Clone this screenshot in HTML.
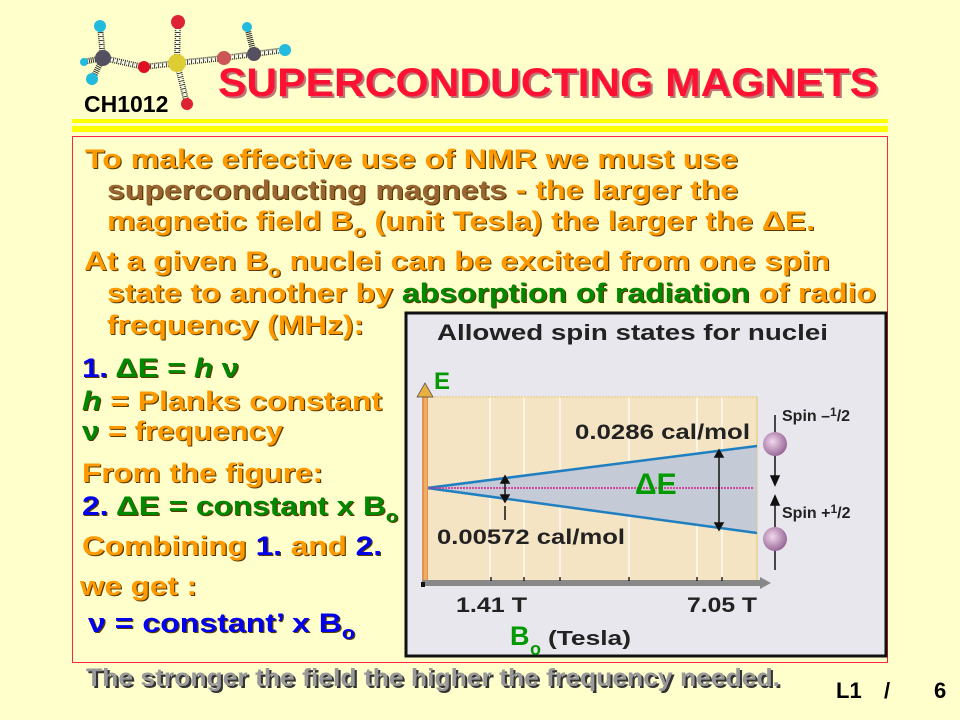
<!DOCTYPE html>
<html><head><meta charset="utf-8"><style>
body{margin:0;width:960px;height:720px;background:#ffffcc;position:relative;overflow:hidden;}
svg text{font-family:"Liberation Sans",sans-serif;font-weight:bold;}
.t{font-size:27px;fill:#ff9900;text-shadow:1px 1px 0 #5a3a00;}
.br{fill:#996633}.g{fill:#008800}.b{fill:#0000ee}.o{fill:#ff9900}
</style></head><body>
<svg width="960" height="720" style="position:absolute;left:0;top:0">
<!-- molecule -->
<g stroke-width="6" stroke="#333" stroke-dasharray="1 1">
<line x1="100" y1="26" x2="103" y2="58"/><line x1="83" y1="62" x2="103" y2="58"/><line x1="93" y1="78" x2="103" y2="58"/>
<line x1="103" y1="58" x2="144" y2="67"/><line x1="144" y1="67" x2="177" y2="63"/><line x1="177" y1="63" x2="178" y2="22"/><line x1="177" y1="63" x2="187" y2="104"/><line x1="177" y1="63" x2="224" y2="58"/><line x1="224" y1="58" x2="254" y2="54"/><line x1="254" y1="54" x2="247" y2="27"/><line x1="254" y1="54" x2="285" y2="50"/>
</g>
<g stroke="#fff" stroke-width="3" stroke-dasharray="2 2">
<line x1="100" y1="26" x2="103" y2="58"/><line x1="103" y1="58" x2="144" y2="67"/><line x1="144" y1="67" x2="177" y2="63"/><line x1="177" y1="63" x2="178" y2="22"/><line x1="177" y1="63" x2="187" y2="104"/><line x1="177" y1="63" x2="224" y2="58"/><line x1="224" y1="58" x2="254" y2="54"/><line x1="254" y1="54" x2="285" y2="50"/>
</g>
<circle cx="100" cy="26" r="6" fill="#22bbdd"/><circle cx="84" cy="62" r="4" fill="#22bbdd"/><circle cx="92" cy="79" r="6" fill="#22bbdd"/>
<circle cx="103" cy="58" r="8" fill="#555060"/><circle cx="144" cy="67" r="6" fill="#dd1122"/>
<circle cx="178" cy="22" r="7" fill="#dd2233"/><circle cx="187" cy="104" r="6" fill="#dd2233"/>
<circle cx="177" cy="63" r="9" fill="#ddcc33"/><circle cx="224" cy="58" r="7" fill="#cc5555"/>
<circle cx="254" cy="54" r="7" fill="#555060"/><circle cx="247" cy="27" r="5" fill="#22bbdd"/><circle cx="285" cy="50" r="6" fill="#22bbdd"/>
<!-- yellow lines -->
<rect x="72" y="119" width="816" height="4" fill="#ffff00"/><rect x="72" y="126" width="816" height="6" fill="#ffff00"/>
<rect x="72.5" y="136.5" width="815" height="526" fill="none" stroke="#ff2244" stroke-width="1"/>
<!-- figure -->
<rect x="406" y="313" width="480" height="343" fill="#e9e7ee" stroke="#111" stroke-width="3"/>
<rect x="425" y="397" width="332" height="185" fill="#f4e4c4"/>
<g stroke="#fffaf0" stroke-width="1.5"><line x1="490" y1="397" x2="490" y2="582"/><line x1="524" y1="397" x2="524" y2="582"/><line x1="560" y1="397" x2="560" y2="582"/><line x1="629" y1="397" x2="629" y2="582"/><line x1="697" y1="397" x2="697" y2="582"/><line x1="722" y1="397" x2="722" y2="582"/></g>
<line x1="425" y1="397" x2="757" y2="397" stroke="#e8c860" stroke-dasharray="2 1"/><line x1="757" y1="397" x2="757" y2="582" stroke="#e8c860"/>
<polygon points="427,488 757,446 757,533" fill="#c4cbd6"/>
<line x1="427" y1="488" x2="757" y2="446" stroke="#1f7fc0" stroke-width="2.5"/>
<line x1="427" y1="488" x2="757" y2="533" stroke="#1f7fc0" stroke-width="2.5"/>
<line x1="430" y1="488" x2="754" y2="488" stroke="#dd2288" stroke-width="1.5" stroke-dasharray="2 1"/>
<rect x="422" y="391" width="6" height="192" fill="#e89050"/><rect x="424" y="391" width="3" height="192" fill="#e8b060"/>
<polygon points="417,397 425,383 433,397" fill="#e8b040" stroke="#444" stroke-width="0.7"/>
<rect x="422" y="580" width="340" height="6" fill="#888"/><polygon points="760,577 771,583 760,589" fill="#888"/>
<rect x="421" y="582" width="4" height="5" fill="#111"/>
<g stroke="#222" stroke-width="1.5"><line x1="491" y1="577" x2="491" y2="581"/><line x1="524" y1="577" x2="524" y2="581"/><line x1="560" y1="577" x2="560" y2="581"/><line x1="629" y1="577" x2="629" y2="581"/><line x1="697" y1="577" x2="697" y2="581"/><line x1="722" y1="577" x2="722" y2="581"/></g>
<g stroke="#111" stroke-width="1.5" fill="#111">
<line x1="505" y1="481" x2="505" y2="497"/><polygon points="501,483 505,476 509,483"/><polygon points="501,495 505,502 509,495"/><line x1="505" y1="506" x2="505" y2="520"/>
<line x1="719" y1="455" x2="719" y2="525"/><polygon points="715,457 719,450 723,457"/><polygon points="715,523 719,530 723,523"/>
<line x1="775" y1="415" x2="775" y2="480"/><polygon points="771,476 775,485 779,476"/>
<line x1="775" y1="500" x2="775" y2="570"/><polygon points="771,505 775,496 779,505"/>
</g>
<defs><radialGradient id="s" cx="0.4" cy="0.4" r="0.6"><stop offset="0" stop-color="#f2d8ee"/><stop offset="1" stop-color="#9a6a98"/></radialGradient></defs>
<circle cx="775" cy="444" r="12" fill="url(#s)"/><circle cx="775" cy="539" r="12" fill="url(#s)"/>
<g fill="#222">
<text x="437" y="340" font-size="22" textLength="391" lengthAdjust="spacingAndGlyphs">Allowed spin states for nuclei</text>
<text x="575" y="439" font-size="21" textLength="175" lengthAdjust="spacingAndGlyphs">0.0286 cal/mol</text>
<text x="437" y="544" font-size="21" textLength="188" lengthAdjust="spacingAndGlyphs">0.00572 cal/mol</text>
<text x="456" y="612" font-size="21" textLength="71" lengthAdjust="spacingAndGlyphs">1.41 T</text>
<text x="687" y="612" font-size="21" textLength="70" lengthAdjust="spacingAndGlyphs">7.05 T</text>
<text x="548" y="645" font-size="20" textLength="83" lengthAdjust="spacingAndGlyphs">(Tesla)</text>
<text x="782" y="421" font-size="16">Spin –<tspan font-size="12" dy="-5">1</tspan><tspan dy="5">/2</tspan></text>
<text x="782" y="518" font-size="16">Spin +<tspan font-size="12" dy="-5">1</tspan><tspan dy="5">/2</tspan></text>
</g>
<g fill="#009900">
<text x="434" y="389" font-size="24">E</text>
<text x="635" y="494" font-size="30">ΔE</text>
<text x="510" y="645" font-size="27">B</text><text x="530" y="655" font-size="18">o</text>
</g>
<!-- header -->
<text x="84" y="112" font-size="23" fill="#000">CH1012</text>
<text x="218" y="96" font-size="40" fill="#ff1133" style="text-shadow:2px 2px 0 #bb7777" textLength="660" lengthAdjust="spacingAndGlyphs">SUPERCONDUCTING MAGNETS</text>
<!-- body -->
<text class="t" x="85" y="168" textLength="653" lengthAdjust="spacingAndGlyphs">To make effective use of NMR we must use</text>
<text class="t" x="107" y="199" textLength="631" lengthAdjust="spacingAndGlyphs"><tspan class="br">superconducting magnets</tspan> - the larger the</text>
<text class="t" x="107" y="230" textLength="708" lengthAdjust="spacingAndGlyphs">magnetic field B<tspan font-size="17" dy="7">o</tspan><tspan dy="-7"> (unit Tesla) the larger the ΔE.</tspan></text>
<text class="t" x="84" y="270" textLength="746" lengthAdjust="spacingAndGlyphs">At a given B<tspan font-size="17" dy="7">o</tspan><tspan dy="-7"> nuclei can be excited from one spin</tspan></text>
<text class="t" x="107" y="302" textLength="769" lengthAdjust="spacingAndGlyphs">state to another by <tspan class="g">absorption of radiation</tspan> of radio</text>
<text class="t" x="107" y="334" textLength="257" lengthAdjust="spacingAndGlyphs">frequency (MHz):</text>
<text class="t" x="82" y="377" textLength="157" lengthAdjust="spacingAndGlyphs"><tspan class="b">1.</tspan> <tspan class="g">ΔE = <tspan font-style="italic">h</tspan> ν</tspan></text>
<text class="t" x="82" y="410" textLength="300" lengthAdjust="spacingAndGlyphs"><tspan class="g" font-style="italic">h</tspan> = Planks constant</text>
<text class="t" x="82" y="440" textLength="201" lengthAdjust="spacingAndGlyphs"><tspan class="g">ν</tspan> = frequency</text>
<text class="t" x="82" y="482" textLength="241" lengthAdjust="spacingAndGlyphs">From the figure:</text>
<text class="t" x="82" y="515" textLength="316" lengthAdjust="spacingAndGlyphs"><tspan class="b">2.</tspan> <tspan class="g">ΔE = constant x B<tspan font-size="17" dy="7">o</tspan></tspan></text>
<text class="t" x="82" y="555" textLength="300" lengthAdjust="spacingAndGlyphs">Combining <tspan class="b">1.</tspan> and <tspan class="b">2.</tspan></text>
<text class="t" x="80" y="595" font-size="30" textLength="117" lengthAdjust="spacingAndGlyphs">we get :</text>
<text class="t b" x="88" y="632" font-size="29" textLength="267" lengthAdjust="spacingAndGlyphs">ν = constant’ x B<tspan font-size="18" dy="7">o</tspan></text>
<text x="86" y="686" font-size="25" fill="#999" style="text-shadow:2px 2px 0 #333" textLength="694" lengthAdjust="spacingAndGlyphs">The stronger the field the higher the frequency needed.</text>
<text x="836" y="698" font-size="22" fill="#000">L1</text><text x="884" y="698" font-size="22" fill="#000">/</text><text x="934" y="698" font-size="22" fill="#000">6</text>
</svg>
</body></html>
